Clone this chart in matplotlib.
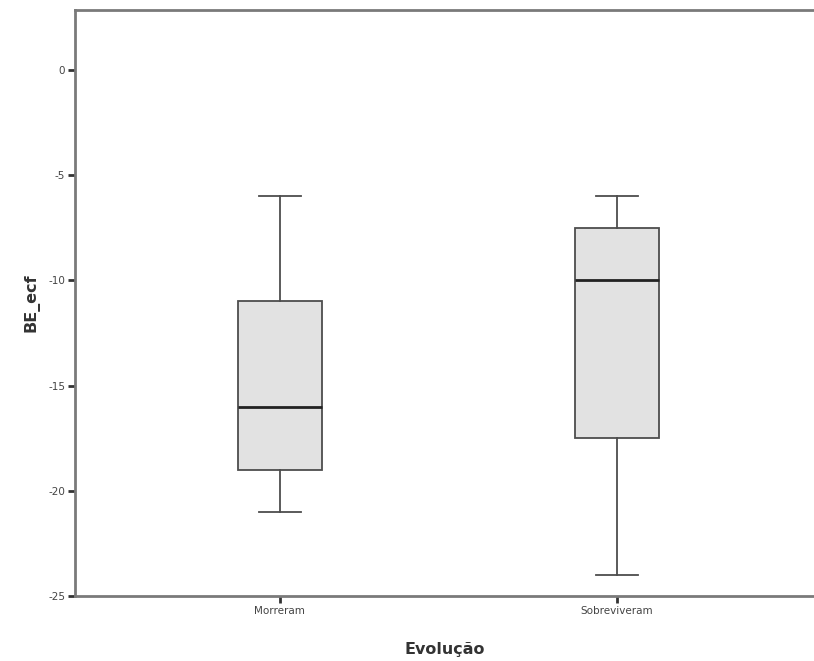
import matplotlib.pyplot as plt

# dados (boxplot estilo SPSS)
grupos = ['Morreram', 'Sobreviveram']
minimos = [-21, -24]
q1 = [-19, -17.5]
medianas = [-16, -10]
q3 = [-11, -7.5]
maximos = [-6, -6]
yticks = [0, -5, -10, -15, -20, -25]

stats = []
for i, g in enumerate(grupos):
    stats.append({'label': g, 'whislo': minimos[i], 'q1': q1[i], 'med': medianas[i],
                  'q3': q3[i], 'whishi': maximos[i], 'fliers': []})

fig = plt.figure(figsize=(8.14, 6.61), dpi=100)
ax = fig.add_axes([0.0921, 0.0983, 0.9079, 0.8866])

edge = '#4d4d4d'
ax.bxp(stats, positions=[1, 2], widths=0.25, patch_artist=True,
       boxprops=dict(facecolor='#e2e2e2', edgecolor=edge, linewidth=1.3),
       whiskerprops=dict(color=edge, linewidth=1.3),
       capprops=dict(color=edge, linewidth=1.3),
       medianprops=dict(color='#222222', linewidth=2))

ax.set_xlim(0.392, 2.585)
ax.set_ylim(-25, 2.85)
ax.set_yticks(yticks)
ax.set_yticklabels([str(t) for t in yticks])

for s in ['left', 'bottom', 'top']:
    ax.spines[s].set_color('#7a7a7a')
    ax.spines[s].set_linewidth(2)
ax.spines['right'].set_visible(False)

ax.tick_params(axis='both', direction='out', length=5, width=2, color='#333333',
               labelsize=7.5, labelcolor='#444444', pad=2)

ax.set_ylabel('BE_ecf', fontsize=11.5, fontweight='bold', color='#333333', labelpad=6)
ax.set_xlabel('Evolução', fontsize=11.5, fontweight='bold', color='#333333', labelpad=19)

fig.savefig('out.png', dpi=100)
